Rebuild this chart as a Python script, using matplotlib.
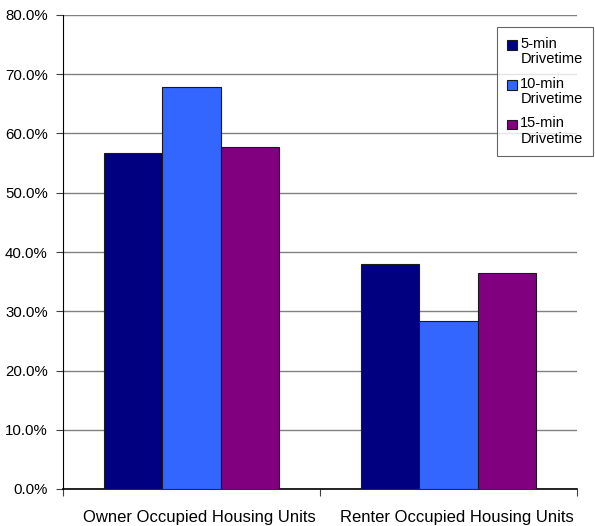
import matplotlib
matplotlib.use("Agg")
import matplotlib.pyplot as plt
import matplotlib.transforms as mtransforms
from matplotlib.patches import Rectangle
from matplotlib.container import BarContainer
from matplotlib.legend_handler import HandlerPatch, update_from_first_child
import numpy as np
from matplotlib.ticker import FuncFormatter

plt.rcParams['font.family'] = ['Liberation Sans', 'DejaVu Sans']

categories = ["Owner Occupied Housing Units", "Renter Occupied Housing Units"]
series_names = ["5-min\nDrivetime", "10-min\nDrivetime", "15-min\nDrivetime"]
values_5 = [56.7, 38.0]
values_10 = [67.8, 28.4]
values_15 = [57.7, 36.5]
colors = ["#000080", "#3366FF", "#800080"]

fig = plt.figure(figsize=(5.95, 5.26), dpi=100)
ax = fig.add_axes([63/595, 1 - 489/526, (577-63)/595, (489-15)/526])

x = np.arange(len(categories))
w = 0.226
for i, (vals, name, c) in enumerate(zip([values_5, values_10, values_15], series_names, colors)):
    ax.bar(x + (i - 1) * w, vals, width=w, color=c, edgecolor="#1a1a1a", linewidth=0.8,
           label=name, zorder=3)

ax.set_xlim(-0.5, 1.5)
ax.set_ylim(0, 80)
ax.set_yticks(np.arange(0, 81, 10))
ax.yaxis.set_major_formatter(FuncFormatter(lambda v, p: f"{v:.1f}%"))
ax.grid(axis="y", color="#808080", linewidth=1.0, zorder=0)
ax.set_axisbelow(True)

ax.set_xticks([-0.5, 0.5, 1.5])
ax.set_xticklabels([])
ax.set_xticks(x, minor=True)
ax.set_xticklabels(categories, minor=True, fontsize=12)
ax.tick_params(axis="x", which="minor", length=0, pad=15)
ax.tick_params(axis="x", which="major", direction="out", length=5, color="#404040")
ax.tick_params(axis="y", direction="out", length=5, labelsize=10.8, color="#404040", pad=6)

# nudge category labels slightly to the right
shift = mtransforms.ScaledTranslation(8/100, 0, fig.dpi_scale_trans)
for lbl in ax.get_xticklabels(minor=True):
    lbl.set_transform(lbl.get_transform() + shift)

for s in ["top", "right"]:
    ax.spines[s].set_visible(False)
ax.spines["left"].set_color("#000000")
ax.spines["bottom"].set_color("#000000")
ax.spines["bottom"].set_linewidth(1.2)


# legend swatch aligned with the first line of each two-line label
def top_swatch(legend, orig_handle, xdescent, ydescent, width, height, fontsize):
    return Rectangle((-xdescent, -ydescent + 5.0), width, height)


leg = ax.legend(loc="upper left", bbox_to_anchor=(497/595, 1 - 27/526),
                bbox_transform=fig.transFigure, fontsize=10.5, frameon=True,
                fancybox=False, handlelength=0.65, handleheight=0.65, handletextpad=0.25,
                labelspacing=0.72, borderpad=0.7, borderaxespad=0,
                handler_map={BarContainer: HandlerPatch(patch_func=top_swatch,
                                                        update_func=update_from_first_child)})
leg.get_frame().set_edgecolor("#404040")
leg.get_frame().set_linewidth(0.8)
for t in leg.get_texts():
    t.set_linespacing(1.1)

fig.savefig("out.png", dpi=100)
